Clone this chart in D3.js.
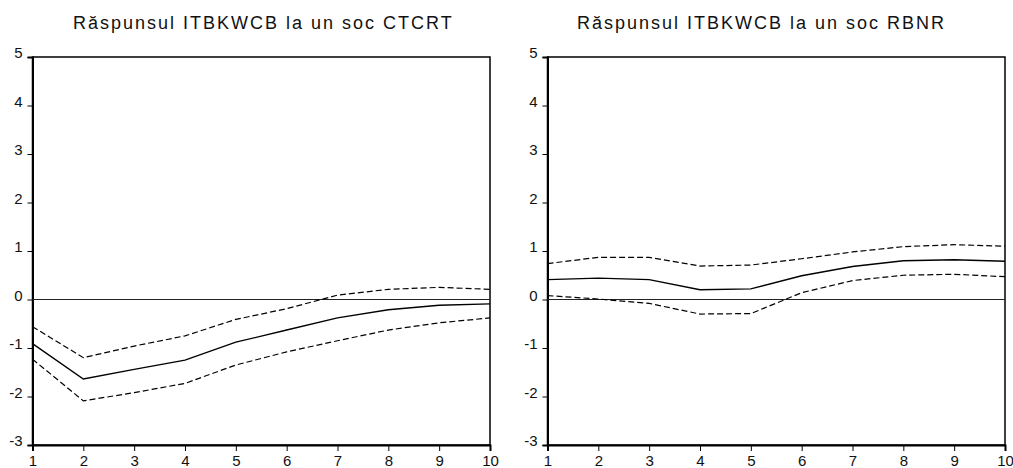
<!DOCTYPE html>
<html><head><meta charset="utf-8">
<script src="https://cdn.jsdelivr.net/npm/d3@7"></script>
<style>body{margin:0;background:#fff}svg{display:block}</style>
</head><body><svg id="c" width="1013" height="468"></svg>
<script>
const periods = [1,2,3,4,5,6,7,8,9,10];
const yTicks = [-3,-2,-1,0,1,2,3,4,5];
const titles = ["Răspunsul ITBKWCB la un soc CTCRT", "Răspunsul ITBKWCB la un soc RBNR"];
const ctcrtResp  = [-0.91,-1.64,-1.44,-1.25,-0.88,-0.63,-0.38,-0.21,-0.12,-0.09];
const ctcrtUpper = [-0.56,-1.20,-0.96,-0.75,-0.41,-0.19,0.09,0.21,0.25,0.21];
const ctcrtLower = [-1.23,-2.09,-1.92,-1.73,-1.35,-1.08,-0.85,-0.63,-0.48,-0.38];
const rbnrResp  = [0.41,0.44,0.41,0.20,0.22,0.49,0.68,0.80,0.82,0.79];
const rbnrUpper = [0.74,0.87,0.87,0.69,0.71,0.84,0.98,1.09,1.13,1.10];
const rbnrLower = [0.08,0.01,-0.08,-0.30,-0.29,0.14,0.39,0.50,0.52,0.47];

const panels = [
  {title: titles[0], resp: ctcrtResp, up: ctcrtUpper, lo: ctcrtLower, x0: 32.5, x1: 490, tx: 73},
  {title: titles[1], resp: rbnrResp, up: rbnrUpper, lo: rbnrLower, x0: 547.5, x1: 1005, tx: 577}
];
const plotTop = 57, plotBottom = 445;
const svg = d3.select("#c");
const font = "Arial, 'Liberation Sans', sans-serif";

panels.forEach(p => {
  const x = d3.scaleLinear().domain([1,10]).range([p.x0, p.x1]);
  const y = d3.scaleLinear().domain([-3,5]).range([plotBottom, plotTop]);
  const g = svg.append("g");

  g.append("text").attr("x", p.tx).attr("y", 29).attr("text-anchor","start")
    .attr("font-family", font).attr("font-size", 18).attr("letter-spacing", 2)
    .attr("fill","#111").text(p.title);

  g.append("rect").attr("x", p.x0).attr("y", plotTop).attr("width", p.x1 - p.x0).attr("height", plotBottom - plotTop)
    .attr("fill","none").attr("stroke","#000").attr("stroke-width",1.5);

  const ya = d3.axisLeft(y).tickValues(yTicks).tickSize(5).tickPadding(5).tickFormat(d3.format("d"));
  const yg = g.append("g").attr("transform", `translate(${p.x0},0)`).call(ya);
  yg.select(".domain").attr("stroke","#000").attr("stroke-width",2);
  yg.selectAll(".tick line").attr("stroke","#000").attr("stroke-width",1);
  yg.selectAll(".tick text").attr("font-family", font).attr("font-size", 15).attr("fill","#111").attr("dy","0.05em")
    .text(d => d < 0 ? "-" + Math.abs(d) : d);

  const xa = d3.axisBottom(x).tickValues(periods).tickSize(6).tickPadding(4).tickFormat(d3.format("d"));
  const xg = g.append("g").attr("transform", `translate(0,${plotBottom})`).call(xa);
  xg.select(".domain").attr("stroke","#000").attr("stroke-width",2);
  xg.selectAll(".tick line").attr("stroke","#000").attr("stroke-width",1);
  xg.selectAll(".tick text").attr("font-family", font).attr("font-size", 15).attr("fill","#111");

  g.append("line").attr("x1", p.x0).attr("x2", p.x1).attr("y1", y(0)).attr("y2", y(0))
    .attr("stroke","#222").attr("stroke-width",1.2);

  const line = d3.line().x((d,i) => x(periods[i])).y(d => y(d));
  g.append("path").datum(p.up).attr("d", line).attr("fill","none").attr("stroke","#000")
    .attr("stroke-width",1.2).attr("stroke-dasharray","6,3");
  g.append("path").datum(p.lo).attr("d", line).attr("fill","none").attr("stroke","#000")
    .attr("stroke-width",1.2).attr("stroke-dasharray","6,3");
  g.append("path").datum(p.resp).attr("d", line).attr("fill","none").attr("stroke","#000")
    .attr("stroke-width",1.4);
});
</script></body></html>
